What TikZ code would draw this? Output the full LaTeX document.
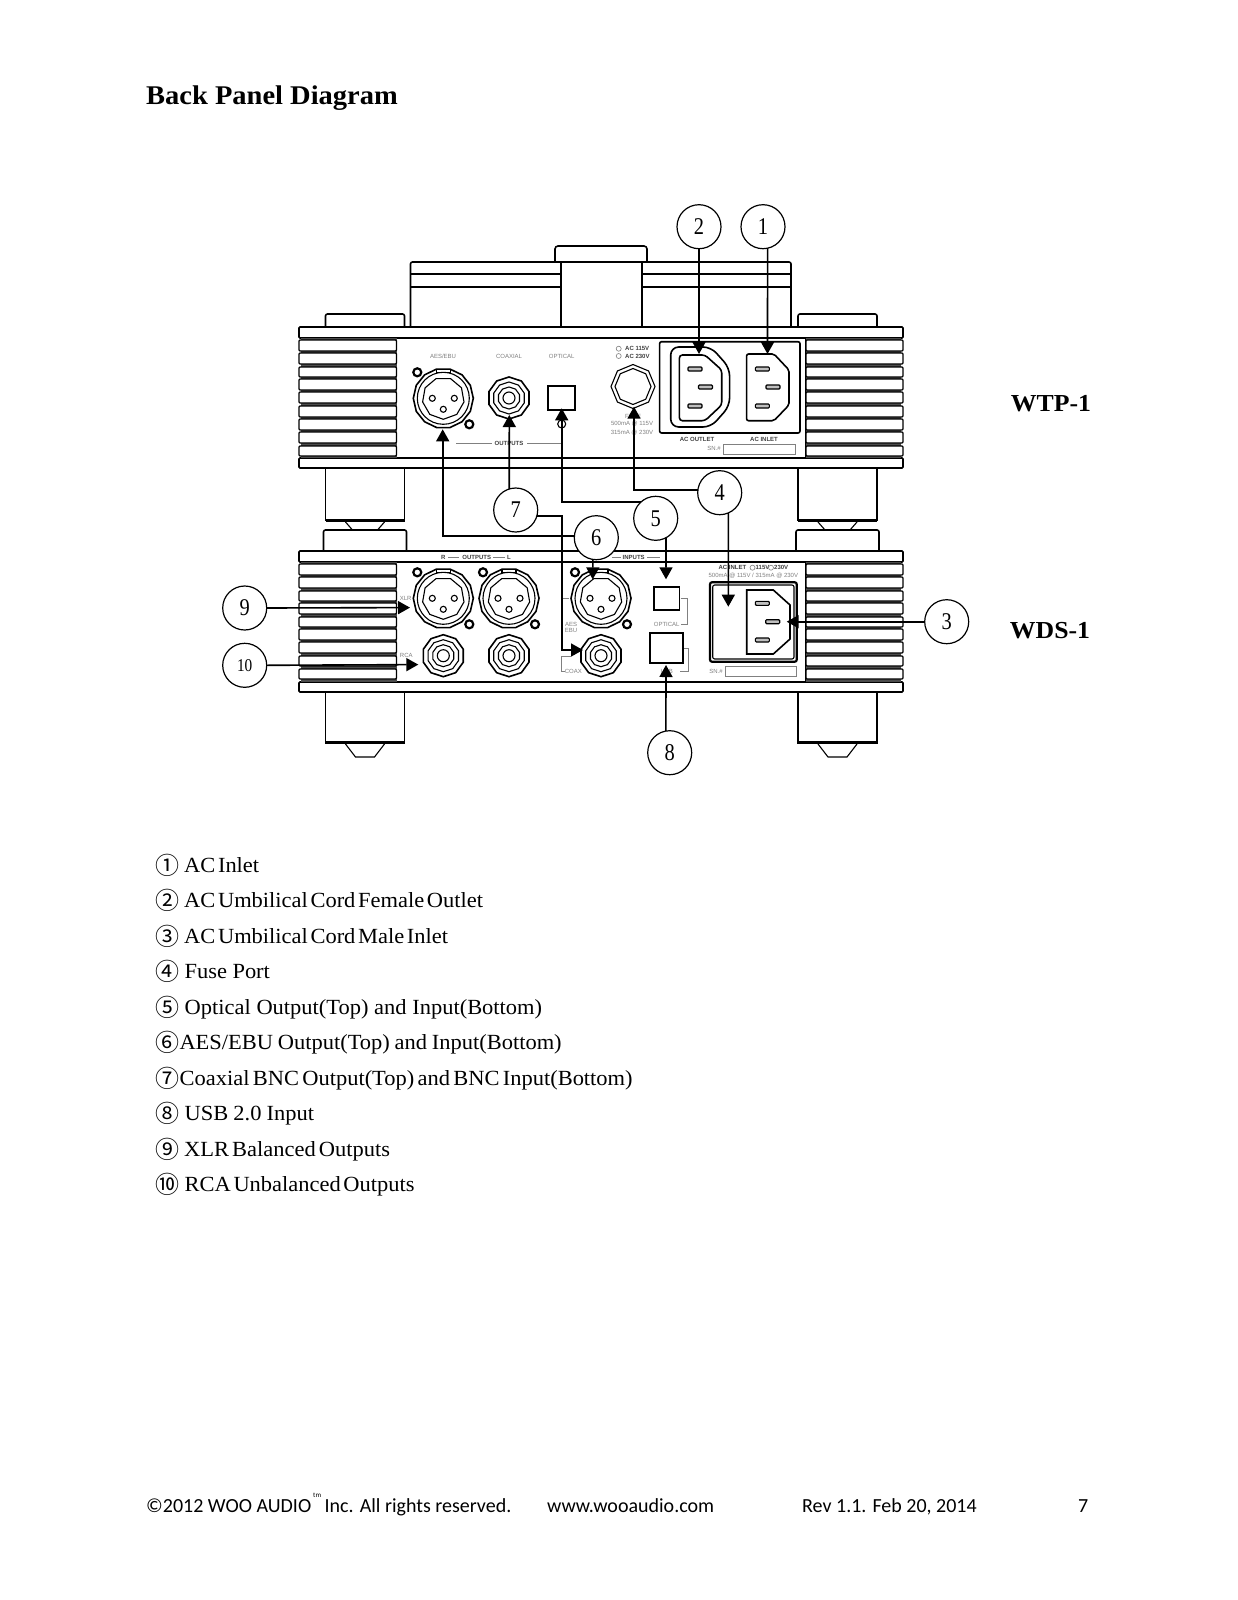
\documentclass[tikz,border=0pt]{standalone}
\usepackage{fontspec}
\usepackage{xcolor}
\usetikzlibrary{arrows.meta}
\setmainfont{Liberation Serif}
\newfontfamily\labelfont{Liberation Sans}
\newfontfamily\footfont{Carlito}
\newfontfamily\symfont{Noto Sans CJK SC}
\newfontfamily\titlefont[FakeStretch=1.055]{Liberation Serif}
\newfontfamily\rowfont[FakeStretch=1.04]{Liberation Serif}
\newfontfamily\numfont[FakeStretch=0.85]{Liberation Serif}
\definecolor{muted}{HTML}{808080}
\tikzset{
  heavy/.style={draw=black, line width=1.6pt},
  medium/.style={draw=black, line width=1.1pt},
  thick line/.style={draw=black, line width=2.2pt},
  faint/.style={draw=muted, line width=0.6pt},
  lab/.style={text=muted, font=\labelfont\fontsize{6}{6}\selectfont, inner sep=0pt},
  blab/.style={text=black!75, font=\labelfont\bfseries\fontsize{6}{6}\selectfont, inner sep=0pt},
  callnum/.style={circle, draw=black, fill=white, line width=1.2pt, minimum size=44pt,
    inner sep=0pt, outer sep=0pt, font=\numfont\fontsize{24}{24}\selectfont},
  callout/.style={draw=black, line width=1.6pt, -{Triangle[length=12pt,width=13pt]}},
  rowtxt/.style={anchor=base west, inner sep=0pt, font=\rowfont\fontsize{21.6}{22}\selectfont},
  rowmark/.style={anchor=base west, inner sep=0pt, font=\symfont\fontsize{24}{24}\selectfont},
  foot/.style={anchor=base west, inner sep=0pt, font=\footfont\fontsize{20}{22}\selectfont},
  unitname/.style={inner sep=0pt, font=\titlefont\bfseries\fontsize{24.4}{24}\selectfont},
}
% sides, radius, turn
\newcommand{\ngon}[4][medium]{%
  \draw[#1] plot[samples=\the\numexpr#2+1\relax, domain=#4:#4+360] (\x:#3) -- cycle;}
\newcommand{\xlrjack}[2]{%
  \begin{scope}[shift={(#1,#2)}]
    \ngon[heavy]{14}{30}{0}
    \draw[medium] (0,0) circle (26);
    \ngon{9}{21}{90}
    \foreach \px/\py in {-11/0,11/0,0/11} \draw[medium] (\px,\py) circle (3);
    \draw[medium] (-7,-29) -- (-7,-26) -- (7,-26) -- (7,-29);
    \draw[thick line] (-26,-26) circle (4);
    \draw[thick line] (26,26) circle (4);
  \end{scope}}
\newcommand{\rcajack}[2]{%
  \begin{scope}[shift={(#1,#2)}]
    \ngon[heavy]{10}{21}{18}
    \ngon{10}{16}{18}
    \ngon{10}{11}{18}
    \draw[medium] (0,0) circle (6);
  \end{scope}}
\newcommand{\finset}[3]{%
  \fill[black!70] (301,#2) rectangle (396.5,#3);
  \fill[black!70] (806,#2) rectangle (901,#3);
  \foreach \ya/\yb in {#1} {
    \draw[medium, fill=white, rounded corners=1pt] (299,\ya) rectangle (396.5,\yb);
    \draw[medium, fill=white, rounded corners=1pt] (806,\ya) rectangle (903,\yb);
  }}
\begin{document}
\begin{tikzpicture}[x=1pt, y=-1pt]
  \useasboundingbox[fill=white] (0,0) rectangle (1237,1600);
  % upper unit
  \draw[heavy, rounded corners=3pt] (555,262) -- (555,246) -- (647,246) -- (647,262);
  \draw[heavy, rounded corners=2pt] (410.5,327) -- (410.5,262) -- (791,262) -- (791,327);
  \draw[heavy] (410.5,274) -- (791,274);
  \draw[thick line] (410.5,287) -- (791,287);
  \draw[heavy, fill=white] (561,262) rectangle (642,327);
  \draw[heavy] (555,262) -- (647,262);
  \foreach \xa/\xb in {325.5/404.5,798/877} {
    \draw[heavy, rounded corners=2pt] (\xa,327) -- (\xa,314) -- (\xb,314) -- (\xb,327);
    \draw[heavy] (\xa,468) -- (\xa,520) -- (\xb,520) -- (\xb,468);
    \draw[thick line] (\xa,521) -- (\xb,521);
    \draw[medium] (\xa+20,522) -- (\xa+27,530);
    \draw[medium] (\xb-20,522) -- (\xb-27,530);
    \draw[heavy, rounded corners=2pt] (\xa-2,551) -- (\xa-2,530) -- (\xb+2,530) -- (\xb+2,551);
    \draw[heavy] (\xa,692) -- (\xa,743) -- (\xb,743) -- (\xb,692);
    \draw[thick line] (\xa,742) -- (\xb,742);
    \draw[medium] (\xa+20,744) -- (\xa+30,757) -- (\xb-30,757) -- (\xb-20,744);
  }
  \draw[heavy, rounded corners=1pt] (299,327) rectangle (903,338);
  \draw[heavy, rounded corners=1pt] (299,458) rectangle (903,468);
  \draw[heavy] (396.5,338) rectangle (806,458);
  \finset{340/351,353/364,367/377,379/390,392/403,406/417,419/430,432/443,446/456}{338}{458}
  % lower unit
  \draw[heavy, rounded corners=1pt] (299,551) rectangle (903,562);
  \draw[heavy, rounded corners=1pt] (299,682) rectangle (903,692);
  \draw[heavy] (396.5,562) rectangle (806,682);
  \finset{564/575,577/588,591/601,603/614,617/627,629/640,642/653,656/666,669/679}{562}{682}
  % upper panel
  \xlrjack{443.3}{398.3}
  \rcajack{509}{398}
  \draw[thick line] (548,386) rectangle (575,410);
  \draw[medium] (561.7,424) circle (4);
  \begin{scope}[shift={(633,386.5)}]
    \ngon{8}{22}{0}
    \ngon{8}{18}{0}
  \end{scope}
  \node[lab] (aesName) at (443,356) {AES/EBU};
  \node[lab] (coaxName) at (509,356) {COAXIAL};
  \node[lab] (optName) at (561.7,356) {OPTICAL};
  \node[blab, anchor=west] (ac115) at (625,348.7) {AC 115V};
  \node[blab, anchor=west] (ac230) at (625,356) {AC 230V};
  \draw[faint] (618.7,348.7) circle (2.5) (618.7,356) circle (2.5);
  \node[lab] (fuseName) at (633,416) {FUSE};
  \node[lab] (fuseA) at (632,424) {500mA @ 115V};
  \node[lab] (fuseB) at (632,432.7) {315mA @ 230V};
  \node[blab] (outName) at (509,443) {OUTPUTS};
  \draw[faint] (456,443) -- (492,443) (527,443) -- (562,443);
  \draw[heavy, rounded corners=2pt] (659.6,341.7) rectangle (800,433);
  \draw[heavy, rounded corners=8pt] (729.6,368) -- (711,347) -- (670.7,347) -- (670.7,427) -- (711,427) -- (729.6,406) -- cycle;
  \draw[heavy, rounded corners=3pt] (721.7,370) -- (705,355) -- (679.4,355) -- (679.4,420.7) -- (705,420.7) -- (721.7,405) -- cycle;
  \draw[heavy, rounded corners=2pt] (789,370) -- (774,354) -- (746.6,354) -- (746.6,420.7) -- (774,420.7) -- (789,405) -- cycle;
  \foreach \px/\py in {695/369,705.5/387,695/406,762.4/369,773/387,762.4/406}
    \draw[medium, fill=black!25, rounded corners=1pt] (\px-7,\py-2) rectangle (\px+7,\py+2);
  \node[blab] (outletName) at (697,439.3) {AC OUTLET};
  \node[blab] (inletName) at (764,439.3) {AC INLET};
  \node[lab] (snTop) at (714,448.7) {SN.\#};
  \draw[faint] (723.6,444) rectangle (795,454);
  % lower panel
  \xlrjack{443.3}{598.3}
  \xlrjack{509}{598.3}
  \xlrjack{601}{598.3}
  \rcajack{443.3}{655.7}
  \rcajack{509}{655.7}
  \rcajack{601}{655.7}
  \node[blab] (rName) at (443.3,557.3) {R};
  \node[blab] (outsName) at (476.7,557.3) {OUTPUTS};
  \node[blab] (lName) at (509,557.3) {L};
  \draw[faint] (448,557.3) -- (459.3,557.3) (493,557.3) -- (505,557.3);
  \node[blab] (inName) at (633.7,557.3) {INPUTS};
  \draw[faint] (612,557.3) -- (621,557.3) (647,557.3) -- (660,557.3);
  \node[lab] (xlrName) at (405.7,598.3) {XLR};
  \node[lab] (rcaName) at (406.3,655.7) {RCA};
  \node[lab] (aesA) at (571,624) {AES};
  \node[lab] (aesB) at (571,630) {EBU};
  \node[lab] (coaxIn) at (573.3,671.7) {COAX};
  \draw[faint] (569,598.3) -- (562.3,598.3) -- (562.3,627);
  \draw[faint] (570.7,656) -- (561.7,656) -- (561.7,671.7) -- (565,671.7);
  \draw[heavy] (654,586.7) rectangle (679.3,610);
  \node[lab] (optIn) at (666.7,624) {OPTICAL};
  \draw[faint] (680.7,598.3) -- (687.7,598.3) -- (687.7,624) -- (680.7,624);
  \draw[thick line] (650,632.7) rectangle (683.3,663.3);
  \node[lab] (usbName) at (666.7,671.7) {USB};
  \draw[faint] (684,648.3) -- (688.3,648.3) -- (688.3,671.7) -- (680,671.7);
  \node[blab, anchor=west] (inletIn) at (718.3,567.7) {AC INLET};
  \node[blab, anchor=west] (in115) at (755.5,567.7) {115V};
  \node[blab, anchor=west] (in230) at (774,567.7) {230V};
  \draw[faint] (752.5,567.7) circle (2.5) (771,567.7) circle (2.5);
  \node[lab] (fuseIn) at (753.3,576) {500mA @ 115V / 315mA @ 230V};
  \draw[thick line, rounded corners=2pt] (710,582.3) rectangle (796.7,661.7);
  \draw[medium, rounded corners=2pt] (712.7,585) rectangle (794,659);
  \draw[heavy] (790,605) -- (773.3,590) -- (746.7,590) -- (746.7,654) -- (773.3,654) -- (790,639) -- cycle;
  \foreach \px/\py in {762.3/603.3,772.7/621.7,762.3/640}
    \draw[medium, fill=black!25, rounded corners=1pt] (\px-7,\py-2) rectangle (\px+7,\py+2);
  \node[lab] (snLow) at (716,671.7) {SN.\#};
  \draw[faint] (725.7,666.7) rectangle (796.7,676.7);
  % callouts
  \node[callnum] (c1) at (763,226.7) {1};
  \node[callnum] (c2) at (699,226.7) {2};
  \node[callnum] (c3) at (946.7,621.7) {3};
  \node[callnum] (c4) at (719.7,492.7) {4};
  \node[callnum] (c5) at (655.7,518.3) {5};
  \node[callnum] (c6) at (596.3,537.7) {6};
  \node[callnum] (c7) at (515.7,510) {7};
  \node[callnum] (c8) at (669.7,752.7) {8};
  \node[callnum] (c9) at (244.7,608) {9};
  \node[callnum, font=\numfont\fontsize{18}{18}\selectfont] (c10) at (244.7,665.3) {10};
  \coordinate (tip1) at (767.5,354);
  \coordinate (tip2) at (699,354);
  \coordinate (tip3) at (786.7,621.7);
  \coordinate (tip4a) at (634,406.7);
  \coordinate (tip4b) at (728.3,606.7);
  \coordinate (tip5a) at (561.7,408.3);
  \coordinate (tip5b) at (666,579.3);
  \coordinate (tip6a) at (442.7,429.3);
  \coordinate (tip6b) at (592.7,579.3);
  \coordinate (tip7a) at (509.3,415);
  \coordinate (bend7) at (561.7,650);
  \coordinate (tip7b) at (583,650);
  \coordinate (tip8) at (666,665);
  \coordinate (tip9) at (410,607.6);
  \coordinate (tip10) at (418.3,664.6);
  \draw[callout] (c1.-78) -- (tip1);
  \draw[callout] (c2.south) -- (tip2);
  \draw[callout] (c3.west) -- (tip3);
  \draw[callout] (c4.173) -| (tip4a);
  \draw[callout] (c4.-67) -- (tip4b);
  \draw[callout] (c5.131) -| (tip5a);
  \draw[callout] (c5.-62) -- (tip5b);
  \draw[callout] (c6.175) -| (tip6a);
  \draw[callout] (c6.-99) -- (tip6b);
  \draw[callout] (c7.107) -- (tip7a);
  \draw[callout] (c7.-16) -| (bend7) -- (tip7b);
  \draw[callout] (c8.100) -- (tip8);
  \draw[callout] (c9.east) -- (tip9);
  \draw[callout] (c10.east) -- (tip10);
  % texts
  \node[anchor=base west, inner sep=0pt, font=\titlefont\bfseries\fontsize{27}{27}\selectfont] (title) at (146,105) {Back Panel Diagram};
  \node[unitname] (wtp) at (1051,404) {WTP-1};
  \node[unitname] (wds) at (1050,630.6) {WDS-1};
  \foreach \mk/\tx/\tpos/\gap [count=\i] in {
    ①/AC Inlet/184/2.65,
    ②/AC Umbilical Cord Female Outlet/184/2.65,
    ③/AC Umbilical Cord Male Inlet/184/2.65,
    ④/Fuse Port/184.5/5.4,
    ⑤/Optical Output(Top) and Input(Bottom)/184.5/5.7,
    ⑥/{AES/EBU Output(Top) and Input(Bottom)}/179.3/4.8,
    ⑦/Coaxial BNC Output(Top) and BNC Input(Bottom)/179.5/3.3,
    ⑧/USB 2.0 Input/184.5/5.1,
    ⑨/XLR Balanced Outputs/184/3.1,
    ⑩/RCA Unbalanced Outputs/184.5/2.65
  } {
    \node[rowmark] (mark\i) at (155,874+35.5*\i-35.5) {\mk};
    \node[rowtxt] (row\i) at (\tpos,872+35.5*\i-35.5) {\spaceskip=\gap pt \tx};
  }
  \node[foot] (footA) at (146,1512) {©2012 WOO AUDIO};
  \node[anchor=base west, inner sep=0pt, font=\footfont\fontsize{7}{7}\selectfont] (footTm) at (313,1497) {tm};
  \node[foot] (footB) at (324.5,1512) {Inc. All rights reserved.};
  \node[foot] (footC) at (547,1512) {www.wooaudio.com};
  \node[foot] (footD) at (802,1512) {Rev 1.1. Feb 20, 2014};
  \node[foot] (footE) at (1078,1512) {7};
\end{tikzpicture}
\end{document}
